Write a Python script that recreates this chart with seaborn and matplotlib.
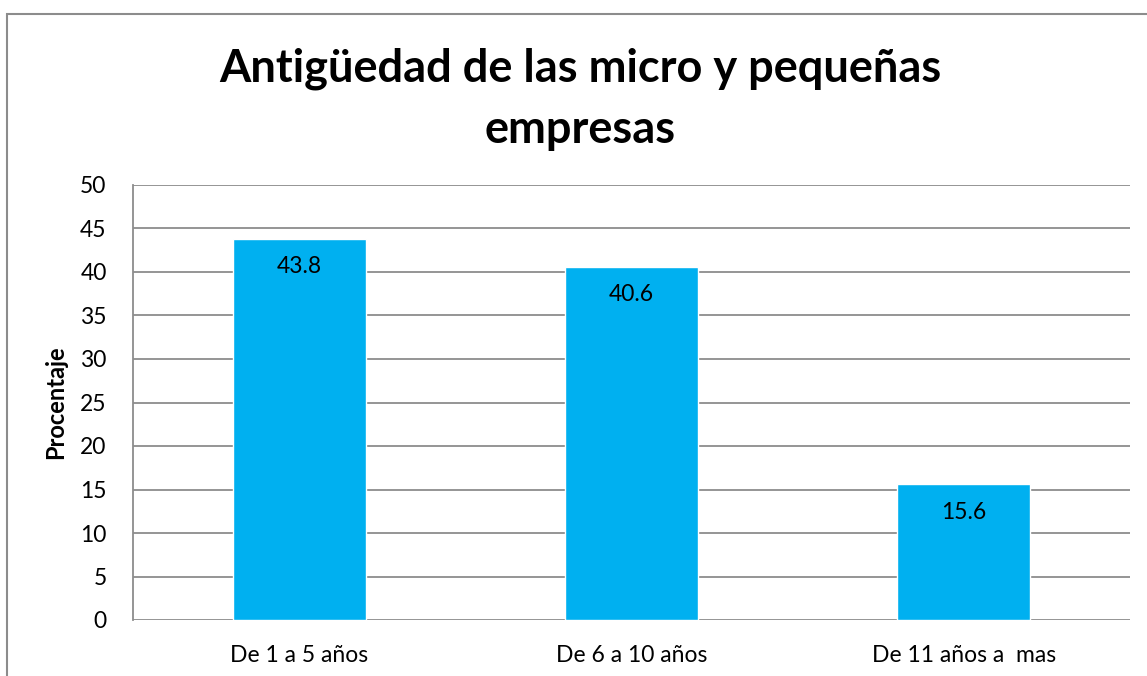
"""Antigüedad de las micro y pequeñas empresas - bar chart"""

import matplotlib
matplotlib.use("Agg")
import matplotlib.pyplot as plt
import pandas as pd
import seaborn as sns
from matplotlib.patches import Rectangle

# ---------------------------------------------------------------------------
CATEGORIES = ["De 1 a 5 años", "De 6 a 10 años", "De 11 años a  mas"]
VALUES     = [43.8, 40.6, 15.6]
Y_TICKS    = list(range(0, 51, 5))
TITLE      = "Antigüedad de las micro y pequeñas\nempresas"
Y_LABEL    = "Procentaje"

BAR_COLOR  = "#00B0F0"
GRID_COLOR = "#8C8C8C"

sns.set_theme(style="white")
plt.rcParams["font.family"] = ["Lato", "DejaVu Sans"]
plt.rcParams.update({
    "text.color": "black",
    "axes.labelcolor": "black",
    "xtick.color": "black",
    "ytick.color": "black",
})

df = pd.DataFrame({"cat": CATEGORIES, "val": VALUES})

fig = plt.figure(figsize=(11.47, 6.76), dpi=100)
ax = fig.add_axes([133 / 1147, 1 - 620 / 676, (1130 - 133) / 1147, (620 - 185) / 676])

sns.barplot(data=df, x="cat", y="val", color=BAR_COLOR, saturation=1,
            width=0.4, ax=ax, zorder=3)

ax.set_ylim(0, 50)
ax.set_yticks(Y_TICKS)
ax.set_xlim(-0.5, len(CATEGORIES) - 0.5)
ax.yaxis.grid(True, color=GRID_COLOR, linewidth=1.3, zorder=0)
ax.set_axisbelow(True)
for side in ["top", "right", "bottom"]:
    ax.spines[side].set_visible(False)
ax.spines["left"].set_color(GRID_COLOR)
ax.spines["left"].set_linewidth(1.3)
ax.tick_params(axis="y", length=0, pad=19, labelsize=16.5)
ax.tick_params(axis="x", length=0, pad=18, labelsize=16.5)
ax.set_xlabel("")
ax.set_ylabel(Y_LABEL, fontsize=17, fontweight="bold")
ax.yaxis.set_label_coords(-0.066, 0.5)

# data labels inside the top of each bar
for i, v in enumerate(VALUES):
    ax.text(i, v - 3.2, f"{v:.1f}", ha="center", va="center", fontsize=16.5)

fig.text(0.506, 0.853, TITLE, ha="center", va="center", fontsize=32.5,
         fontweight="bold", linespacing=1.55)

# chart frame (cut off on right and bottom)
fig.patches.append(Rectangle((7.5 / 1147, -0.1), 1.2, 1.1 - 14 / 676,
                             transform=fig.transFigure, fill=False,
                             edgecolor=GRID_COLOR, linewidth=1.5))

fig.savefig("out.png", dpi=100)
plt.close(fig)
